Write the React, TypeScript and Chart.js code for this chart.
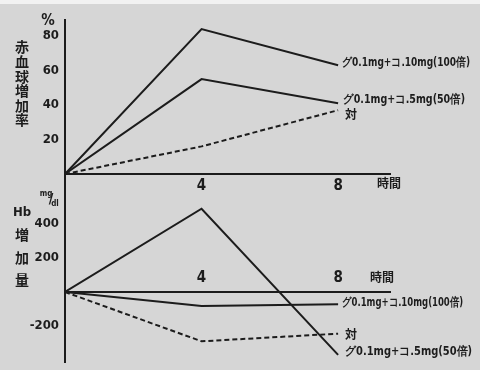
import React, { useEffect, useRef } from "react";
import { Chart, registerables } from "chart.js";

Chart.register(...registerables);

// ---- data ----
const hours = [0, 4, 8];
const xTickValues = [4, 8];
const rbcTickValues = [20, 40, 60, 80];
const hbTickValues = [-200, 200, 400];
const rbc100 = [0, 84, 63];
const rbc50 = [0, 55, 41];
const rbcControl = [0, 16, 37];
const hb100 = [0, -82, -72];
const hb50 = [0, 490, -370];
const hbControl = [0, -290, -245];
const label100 = "グ0.1mg+コ.10mg(100倍)";
const label50 = "グ0.1mg+コ.5mg(50倍)";
const labelControl = "対";
const rbcTitle = ["赤", "血", "球", "増", "加", "率"];
const hbTitle = ["Hb", "増", "加", "量"];
const rbcUnit = "%";
const hbUnitTop = "mg";
const hbUnitBottom = "dl";
const timeLabel = "時間";

const INK = "#1c1c1c";
const NUM_FONT = '"DejaVu Sans Condensed", "DejaVu Sans", sans-serif';
const JP_FONT = '"Noto Sans CJK JP", sans-serif';

function series(values: number[], dashed: boolean) {
  return {
    data: hours.map((h, i) => ({ x: h, y: values[i] })),
    borderColor: INK,
    borderWidth: 2,
    borderDash: dashed ? [5, 3] : [],
    pointRadius: 0,
    fill: false,
    tension: 0,
  };
}

function drawLabel(ctx: CanvasRenderingContext2D, text: string, x: number, y: number, width: number) {
  ctx.save();
  ctx.font = `bold 12px ${NUM_FONT}`;
  const w = ctx.measureText(text).width;
  const s = width / w;
  ctx.translate(x, y);
  ctx.scale(s, 1);
  ctx.textAlign = "left";
  ctx.textBaseline = "middle";
  ctx.fillText(text, 0, 0);
  ctx.restore();
}

function zeroPadding(s: any) {
  s.paddingTop = 0;
  s.paddingBottom = 0;
  s.paddingLeft = 0;
  s.paddingRight = 0;
}

function makeConfig(opts: any) {
  return {
    type: "line",
    data: { datasets: opts.datasets },
    options: {
      animation: false,
      responsive: false,
      maintainAspectRatio: false,
      layout: { padding: opts.padding },
      plugins: { legend: { display: false }, tooltip: { enabled: false } },
      scales: {
        x: {
          type: "linear",
          min: 0,
          max: 9.52,
          position: { y: 0 },
          grid: { display: false, drawTicks: false, tickLength: 0 },
          border: { display: true, color: INK, width: 2 },
          afterFit: (s: any) => {
            s.height = 0;
            zeroPadding(s);
          },
          afterBuildTicks: (s: any) => {
            s.ticks = xTickValues.map((v) => ({ value: v }));
          },
          ticks: {
            color: INK,
            padding: opts.xPad,
            font: { family: NUM_FONT, size: 15, weight: "bold" },
            callback: (v: any) => String(v),
          },
        },
        y: {
          type: "linear",
          min: opts.yMin,
          max: opts.yMax,
          position: "left",
          grid: { display: false, drawTicks: false, tickLength: 0 },
          border: { display: true, color: INK, width: 2 },
          afterFit: (s: any) => {
            s.width = 65;
            zeroPadding(s);
          },
          afterBuildTicks: (s: any) => {
            s.ticks = opts.yTicks.map((v: number) => ({ value: v }));
          },
          ticks: {
            color: INK,
            padding: 6,
            font: { family: NUM_FONT, size: 13, weight: "bold" },
            callback: (v: any) => String(v),
          },
        },
      },
    },
    plugins: [{ id: "texts", afterDraw: opts.draw }],
  };
}

export default function App() {
  const topRef = useRef<HTMLCanvasElement>(null);
  const botRef = useRef<HTMLCanvasElement>(null);

  useEffect(() => {
    const top = new Chart(
      topRef.current as HTMLCanvasElement,
      makeConfig({
        datasets: [series(rbc100, false), series(rbc50, false), series(rbcControl, true)],
        padding: { top: 20, left: 0, right: 90, bottom: 0 },
        yMin: -(190 - 174) / 1.725,
        yMax: (174 - 20) / 1.725,
        yTicks: rbcTickValues,
        xPad: 3,
        draw: (chart: any) => {
          const ctx = chart.ctx as CanvasRenderingContext2D;
          const xs = chart.scales.x;
          const ys = chart.scales.y;
          ctx.save();
          ctx.fillStyle = INK;
          ctx.textAlign = "center";
          ctx.textBaseline = "middle";
          ctx.font = `bold 14px ${JP_FONT}`;
          rbcTitle.forEach((c, i) => ctx.fillText(c, 22, 47 + i * 14.6));
          ctx.font = `bold 15px ${NUM_FONT}`;
          ctx.fillText(rbcUnit, 48, 21);
          ctx.textAlign = "left";
          ctx.font = `bold 12px ${JP_FONT}`;
          ctx.fillText(timeLabel, 377, 183);
          const ex = xs.getPixelForValue(8);
          drawLabel(ctx, label100, ex + 4, ys.getPixelForValue(rbc100[2]) - 2, 128);
          drawLabel(ctx, label50, ex + 5, ys.getPixelForValue(rbc50[2]) - 3, 122);
          ctx.font = `bold 12px ${JP_FONT}`;
          ctx.fillText(labelControl, ex + 7, ys.getPixelForValue(rbcControl[2]) + 4);
          ctx.restore();
        },
      }) as any
    );
    const bot = new Chart(
      botRef.current as HTMLCanvasElement,
      makeConfig({
        datasets: [series(hb100, false), series(hb50, false), series(hbControl, true)],
        padding: { top: 0, left: 0, right: 90, bottom: 8 },
        yMin: -(172 - 102) / 0.17,
        yMax: 102 / 0.17,
        yTicks: hbTickValues,
        xPad: -23,
        draw: (chart: any) => {
          const ctx = chart.ctx as CanvasRenderingContext2D;
          const xs = chart.scales.x;
          const ys = chart.scales.y;
          ctx.save();
          ctx.fillStyle = INK;
          ctx.textAlign = "center";
          ctx.textBaseline = "middle";
          const ty = [23, 45, 68, 90];
          hbTitle.forEach((c, i) => {
            ctx.font = i === 0 ? `bold 13px ${NUM_FONT}` : `bold 14px ${JP_FONT}`;
            ctx.fillText(c, 22, ty[i]);
          });
          ctx.font = `bold 8px ${NUM_FONT}`;
          ctx.fillText(hbUnitTop, 46, 4);
          ctx.fillText(hbUnitBottom, 55, 14);
          ctx.font = `bold 14px ${NUM_FONT}`;
          ctx.fillText("/", 51, 9);
          ctx.textAlign = "left";
          ctx.font = `bold 12px ${JP_FONT}`;
          ctx.fillText(timeLabel, 370, 87);
          const ex = xs.getPixelForValue(8);
          drawLabel(ctx, label100, ex + 4, ys.getPixelForValue(hb100[2]) - 1, 121);
          drawLabel(ctx, label50, ex + 7, ys.getPixelForValue(hb50[2]) - 3, 127);
          ctx.font = `bold 12px ${JP_FONT}`;
          ctx.fillText(labelControl, ex + 7, ys.getPixelForValue(hbControl[2]) + 1);
          ctx.restore();
        },
      }) as any
    );
    return () => {
      top.destroy();
      bot.destroy();
    };
  }, []);

  return (
    <div
      style={{
        position: "absolute",
        left: 0,
        top: 0,
        width: 480,
        height: 370,
        background: "#d6d6d6",
        overflow: "hidden",
      }}
    >
      <div style={{ position: "absolute", left: 0, top: 0, width: 480, height: 4, background: "#f2f2f2" }} />
      <canvas ref={topRef} width={480} height={190} style={{ position: "absolute", left: 0, top: 0 }} />
      <canvas ref={botRef} width={480} height={180} style={{ position: "absolute", left: 0, top: 190 }} />
    </div>
  );
}
